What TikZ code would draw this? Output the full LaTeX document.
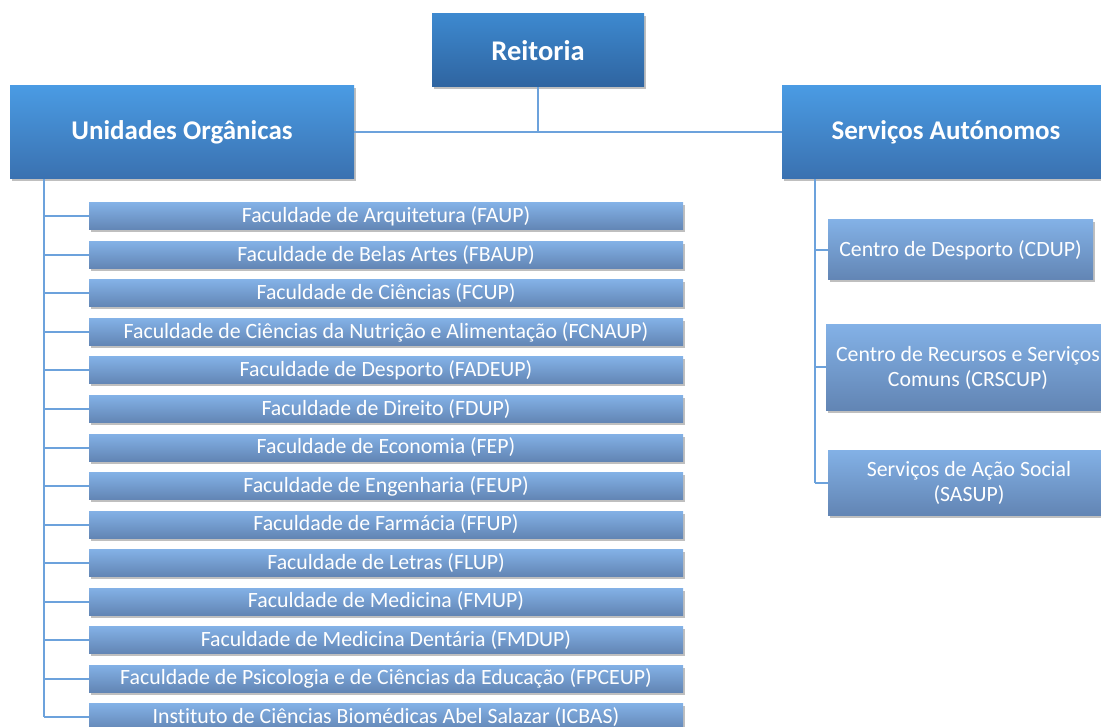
\documentclass[tikz,border=0pt]{standalone}
\usepackage{fontspec}
\setmainfont[Ligatures={NoCommon}]{Carlito}
\usetikzlibrary{shadows}
\definecolor{headTop}{HTML}{4A9BE3}
\definecolor{headBot}{HTML}{3A71B0}
\definecolor{rootTop}{HTML}{3D89CF}
\definecolor{rootBot}{HTML}{2F64A0}
\definecolor{itemTop}{HTML}{83B1E6}
\definecolor{itemBot}{HTML}{6285B4}
\definecolor{lineC}{HTML}{6CA2DC}
\begin{document}
\begin{tikzpicture}[x=1pt,y=-1pt,
  boxbase/.style={inner sep=0pt, text=white, align=center,
    drop shadow={shadow xshift=2pt, shadow yshift=-2.5pt, opacity=0.25, fill=black}},
  rootbox/.style={boxbase, top color=rootTop, bottom color=rootBot,
    font=\fontsize{28.5}{32}\selectfont\bfseries},
  headbox/.style={boxbase, top color=headTop, bottom color=headBot,
    font=\fontsize{27}{31}\selectfont\bfseries},
  itembox/.style={boxbase, top color=itemTop, bottom color=itemBot,
    minimum width=594pt, minimum height=27pt,
    font=\fontsize{21.8}{25}\selectfont},
  sidebox/.style={boxbase, top color=itemTop, bottom color=itemBot,
    font=\fontsize{21.8}{25}\selectfont},
  conn/.style={draw=lineC, line width=2pt}]
\useasboundingbox (0,0) rectangle (1101,727);
\clip (0,0) rectangle (1101,727);

\node[rootbox, minimum width=212pt, minimum height=73pt] (reit) at (538,50.5) {Reitoria};
\node[headbox, minimum width=344pt, minimum height=93pt] (uo) at (182,132.5) {Unidades Orgânicas};
\node[headbox, minimum width=328pt, minimum height=93pt] (sa) at (946,132.5) {Serviços Autónomos};

\coordinate (ltop) at ([xshift=34pt]uo.south west);
\coordinate (rtop) at ([xshift=33pt]sa.south west);

\foreach \i/\t in {1/Faculdade de Arquitetura (FAUP),
                   2/Faculdade de Belas Artes (FBAUP),
                   3/Faculdade de Ciências (FCUP),
                   4/Faculdade de Ciências da Nutrição e Alimentação (FCNAUP),
                   5/Faculdade de Desporto (FADEUP),
                   6/Faculdade de Direito (FDUP),
                   7/Faculdade de Economia (FEP),
                   8/Faculdade de Engenharia (FEUP),
                   9/Faculdade de Farmácia (FFUP),
                   10/Faculdade de Letras (FLUP),
                   11/Faculdade de Medicina (FMUP),
                   12/Faculdade de Medicina Dentária (FMDUP),
                   13/Faculdade de Psicologia e de Ciências da Educação (FPCEUP),
                   14/Instituto de Ciências Biomédicas Abel Salazar (ICBAS)}
{
  \node[itembox] (f\i) at (386, {216.5+38.5*(\i-1)}) {\t};
}

\node[sidebox, minimum width=265pt, minimum height=60pt] (cdup) at (960.5,250) {Centro de Desporto (CDUP)};
\node[sidebox, minimum width=284pt, minimum height=85pt] (crs) at (968,367.5) {Centro de Recursos e Serviços\\Comuns (CRSCUP)};
\node[sidebox, minimum width=282pt, minimum height=65pt] (sas) at (969,482.5) {Serviços de Ação Social\\(SASUP)};

% connectors
\draw[conn] (reit.south) -- (reit.south |- uo.east);
\draw[conn] (uo.east) -- (sa.west);
\draw[conn] (ltop) -- (ltop |- f14.west);
\foreach \i in {1,...,14} { \draw[conn] (ltop |- f\i.west) -- (f\i.west); }
\draw[conn] (rtop) -- (rtop |- sas.west);
\foreach \n in {cdup,crs,sas} { \draw[conn] (rtop |- \n.west) -- (\n.west); }
\end{tikzpicture}
\end{document}
